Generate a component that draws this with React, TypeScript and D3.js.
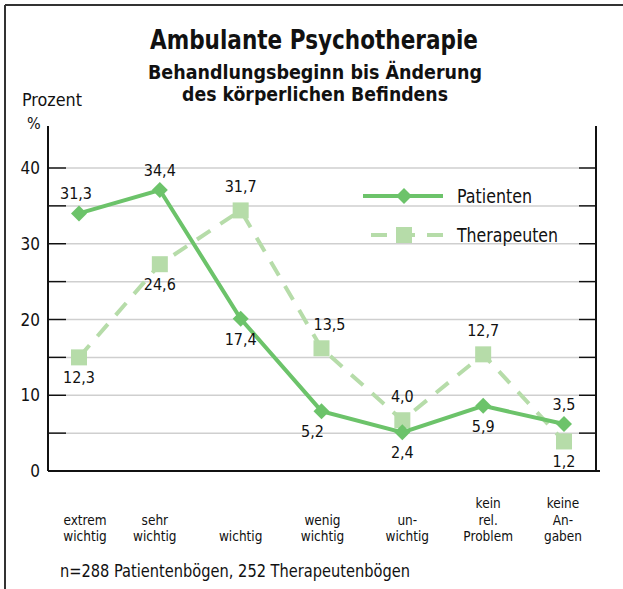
import React from "react";
import * as d3 from "d3";

const categories: string[][] = [
  ["extrem", "wichtig"],
  ["sehr", "wichtig"],
  ["wichtig"],
  ["wenig", "wichtig"],
  ["un-", "wichtig"],
  ["kein", "rel.", "Problem"],
  ["keine", "An-", "gaben"],
];
const patienten = [31.3, 34.4, 17.4, 5.2, 2.4, 5.9, 3.5];
const therapeuten = [12.3, 24.6, 31.7, 13.5, 4.0, 12.7, 1.2];
const patientenLabelPos = ["above", "above", "below", "below", "below", "below", "above"];
const therapeutenLabelPos = ["below", "below", "above", "above", "above", "above", "below"];
const categoryLabelDx = [6, -5, 0, 1, 5, 5, -1];
const yTicks = [0, 10, 20, 30, 40];
const yMinorTicks = [0, 5, 10, 15, 20, 25, 30, 35, 40];
const seriesNames = ["Patienten", "Therapeuten"];

const FONT = "'DejaVu Sans Condensed', 'Liberation Sans Narrow', Roboto, sans-serif";
const C_P = "#6cc36a";
const C_T = "#b6dca9";

const fmt = (v: number) => v.toFixed(1).replace(".", ",");

export default function App() {
  const W = 623, H = 589;
  const axisLeft = 48, axisRight = 596, yBottom = 471, yTop = 168;
  const y = d3.scaleLinear().domain([0, 40]).range([yBottom, yTop]);
  // the original chart draws its marks shifted up against the axis
  const yMark = d3.scaleLinear().domain([-2.7, 37.3]).range([yBottom, yTop]);
  const x = d3.scalePoint<number>().domain(d3.range(categories.length)).range([79, 564]);

  const line = d3.line<number>().x((_, i) => x(i)!).y((d) => yMark(d));

  const diamond = (cx: number, cy: number, r: number) =>
    `M${cx},${cy - r}L${cx + r},${cy}L${cx},${cy + r}L${cx - r},${cy}Z`;

  const labelY = (v: number, pos: string) => (pos === "above" ? yMark(v) - 14 : yMark(v) + 26);

  return (
    <svg width={W} height={H} style={{ position: "absolute", left: 0, top: 0, background: "#fff" }} fontFamily={FONT}>
      <rect x={0} y={0} width={W} height={H} fill="#fff" />
      {/* frame */}
      <line x1={5} y1={5} x2={W} y2={5} stroke="#333" strokeWidth={2} />
      <line x1={5} y1={5} x2={5} y2={H} stroke="#333" strokeWidth={2} />

      {/* titles */}
      <text x={150} y={49} fontSize={27} fontWeight="bold" fill="#111" textLength={328} lengthAdjust="spacingAndGlyphs">Ambulante Psychotherapie</text>
      <text x={148} y={79} fontSize={20} fontWeight="bold" fill="#111" textLength={334} lengthAdjust="spacingAndGlyphs">Behandlungsbeginn bis Änderung</text>
      <text x={182} y={101} fontSize={20} fontWeight="bold" fill="#111" textLength={266} lengthAdjust="spacingAndGlyphs">des körperlichen Befindens</text>
      <text x={22} y={106} fontSize={17} fill="#111" textLength={60} lengthAdjust="spacingAndGlyphs">Prozent</text>
      <text x={27} y={129} fontSize={16} fill="#111">%</text>

      {/* grid */}
      {yMinorTicks.map((t) => (
        <g key={t}>
          {t > 0 && <line x1={66} x2={579} y1={y(t)} y2={y(t)} stroke="#cfcfcf" strokeWidth={1.5} />}
          <line x1={axisLeft} x2={66} y1={y(t)} y2={y(t)} stroke="#111" strokeWidth={1.5} />
          <line x1={579} x2={axisRight} y1={y(t)} y2={y(t)} stroke="#111" strokeWidth={1.5} />
        </g>
      ))}
      {yTicks.map((t) => (
        <text key={t} x={40} y={y(t) + 6} textAnchor="end" fontSize={17} fill="#111">{t}</text>
      ))}
      <line x1={axisLeft} x2={axisLeft} y1={126} y2={yBottom} stroke="#111" strokeWidth={2} />
      <line x1={axisRight} x2={axisRight} y1={126} y2={yBottom} stroke="#111" strokeWidth={2} />
      <line x1={axisLeft} x2={600} y1={yBottom} y2={yBottom} stroke="#111" strokeWidth={2} />

      {/* Therapeuten */}
      <path d={line(therapeuten) || ""} fill="none" stroke={C_T} strokeWidth={4} strokeDasharray="16 12" />
      {therapeuten.map((v, i) => (
        <rect key={i} x={x(i)! - 8} y={yMark(v) - 8} width={16} height={16} fill={C_T} />
      ))}
      {/* Patienten */}
      <path d={line(patienten) || ""} fill="none" stroke={C_P} strokeWidth={4} />
      {patienten.map((v, i) => (
        <path key={i} d={diamond(x(i)!, yMark(v), 8)} fill={C_P} />
      ))}

      {/* value labels */}
      {patienten.map((v, i) => (
        <text key={"pl" + i} x={x(i)! + (i === 3 ? -9 : i === 0 ? -3 : 0)} y={labelY(v, patientenLabelPos[i])} textAnchor="middle" fontSize={16} fill="#111">{fmt(v)}</text>
      ))}
      {therapeuten.map((v, i) => (
        <text key={"tl" + i} x={x(i)! + (i === 3 ? 8 : 0)} y={labelY(v, therapeutenLabelPos[i]) + (therapeutenLabelPos[i] === "above" ? -4 : 0)} textAnchor="middle" fontSize={16} fill="#111">{fmt(v)}</text>
      ))}

      {/* legend */}
      <line x1={363} x2={443} y1={196} y2={196} stroke={C_P} strokeWidth={4} />
      <path d={diamond(404, 196, 8)} fill={C_P} />
      <text x={457} y={203} fontSize={20} fill="#111" textLength={75} lengthAdjust="spacingAndGlyphs">{seriesNames[0]}</text>
      <line x1={363} x2={443} y1={235} y2={235} stroke={C_T} strokeWidth={4} strokeDasharray="16 12" strokeDashoffset={-8} />
      <rect x={396} y={227} width={16} height={16} fill={C_T} />
      <text x={457} y={242} fontSize={20} fill="#111" textLength={101} lengthAdjust="spacingAndGlyphs">{seriesNames[1]}</text>

      {/* category labels */}
      {categories.map((lines, i) => (
        <text key={"c" + i} x={x(i)! + categoryLabelDx[i]} textAnchor="middle" fontSize={13.5} fill="#111">
          {lines.map((l, j) => (
            <tspan key={j} x={x(i)! + categoryLabelDx[i]} y={541 - (lines.length - 1 - j) * 16.5}>{l}</tspan>
          ))}
        </text>
      ))}

      <text x={60} y={577} fontSize={18} fill="#111" textLength={350} lengthAdjust="spacingAndGlyphs">n=288 Patientenbögen, 252 Therapeutenbögen</text>
    </svg>
  );
}
